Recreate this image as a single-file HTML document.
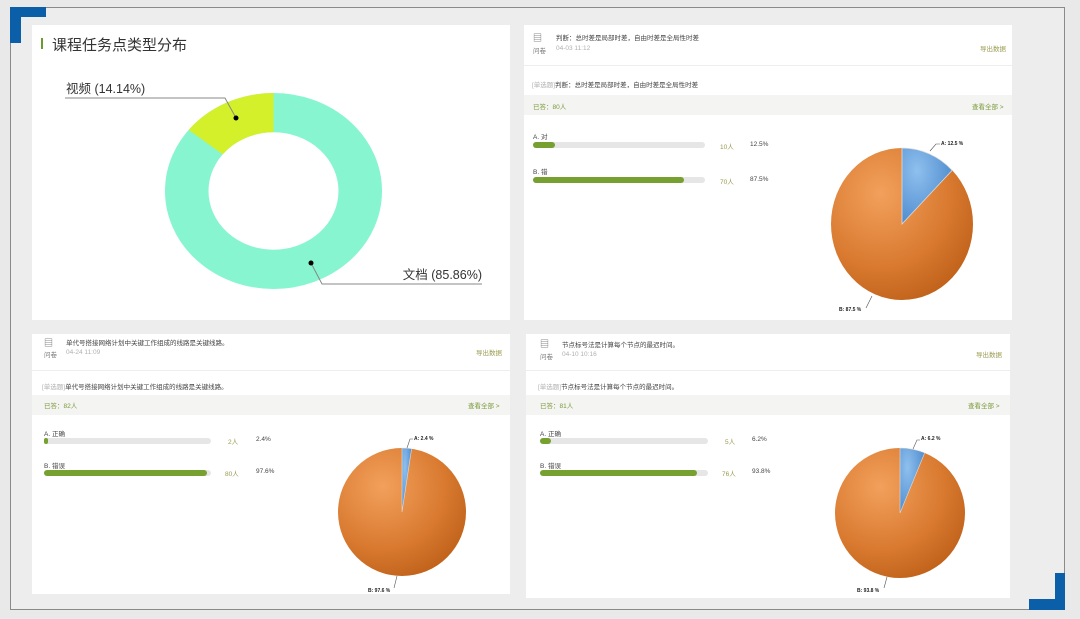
<!DOCTYPE html>
<html><head><meta charset="utf-8"><style>
*{margin:0;padding:0;box-sizing:border-box}
body{width:1080px;height:619px;background:#e9e9e9;position:relative;overflow:hidden;font-family:"Liberation Sans","Noto Sans CJK SC",sans-serif}
.frame{position:absolute;left:10px;top:7px;width:1055px;height:603px;border:1px solid #8a8a8a;background:#ededed}
.b{position:absolute;background:#0a5fa8}
.p{position:absolute;background:#fff}
.t{position:absolute;white-space:nowrap;font-size:6.5px;color:#444}
.g{color:#b0b0b0}.o{color:#9a9a50}.gr{color:#7a9a3a}
.band{position:absolute;background:#f4f4f2}
.bar{position:absolute;height:6px;border-radius:3px;background:#e6e6e6}
.bar i{position:absolute;left:0;top:0;height:6px;border-radius:3px;background:#76a030}
.hr{position:absolute;height:1px;background:#eee}
</style></head><body>
<div class="frame"></div>
<div class="b" style="left:10px;top:7px;width:36px;height:10px"></div>
<div class="b" style="left:10px;top:7px;width:11px;height:36px"></div>
<div class="b" style="left:1029px;top:599px;width:36px;height:11px"></div>
<div class="b" style="left:1055px;top:573px;width:10px;height:37px"></div>

<!-- TL panel -->
<div class="p" style="left:32px;top:25px;width:478px;height:295px"></div>
<div style="position:absolute;left:41px;top:38px;width:2px;height:11px;background:#6a9a30"></div>
<div class="t" style="left:52px;top:34px;font-size:15px;color:#333">课程任务点类型分布</div>
<svg style="position:absolute;left:0;top:0" width="1080" height="619">
<g transform="translate(273.5,191) scale(1,0.903)">
<circle r="86.75" fill="none" stroke="#86f5d0" stroke-width="43.5"/>
<path d="M0,-108.5 A108.5,108.5 0 0 0 -84.8,-67.7 L-50.8,-40.6 A65,65 0 0 1 0,-65 Z" fill="#d4f02a"/>
</g>
<polyline points="65,98 225,98 236,118" fill="none" stroke="#888" stroke-width="1"/>
<circle cx="236" cy="118" r="2.5" fill="#000"/>
<polyline points="311,263 322,284 482,284" fill="none" stroke="#888" stroke-width="1"/>
<circle cx="311" cy="263" r="2.5" fill="#000"/>
<text x="66" y="93" font-size="12.5" fill="#333" font-family="Liberation Sans,Noto Sans CJK SC,sans-serif">视频 (14.14%)</text>
<text x="482" y="279" text-anchor="end" font-size="12.5" fill="#333" font-family="Liberation Sans,Noto Sans CJK SC,sans-serif">文档 (85.86%)</text>
</svg>

<!-- TR panel -->
<div class="p" style="left:524px;top:25px;width:488px;height:295px"></div>
<div class="hr" style="left:524px;top:65px;width:488px"></div>
<div class="t" style="left:533px;top:31px;font-size:9px;color:#666">▤</div>
<div class="t" style="left:556px;top:32px">判断：总时差是局部时差，自由时差是全局性时差</div>
<div class="t g" style="left:533px;top:45px;color:#777">问卷</div>
<div class="t g" style="left:556px;top:45px">04-03 11:12</div>
<div class="t o" style="left:980px;top:43px">导出数据</div>
<div class="t" style="left:532px;top:79px"><span class="g">[单选题]</span>判断：总时差是局部时差，自由时差是全局性时差</div>
<div class="band" style="left:524px;top:95px;width:488px;height:20px"></div>
<div class="t gr" style="left:533px;top:101px">已答：80人</div>
<div class="t gr" style="left:972px;top:101px">查看全部 &gt;</div>
<div class="t" style="left:533px;top:131px">A. 对</div>
<div class="bar" style="left:533px;top:142px;width:172px"><i style="width:22px"></i></div>
<div class="t o" style="left:720px;top:141px">10人</div><div class="t" style="left:750px;top:141px">12.5%</div>
<div class="t" style="left:533px;top:166px">B. 错</div>
<div class="bar" style="left:533px;top:177px;width:172px"><i style="width:151px"></i></div>
<div class="t o" style="left:720px;top:176px">70人</div><div class="t" style="left:750px;top:176px">87.5%</div>

<!-- BL panel -->
<div class="p" style="left:32px;top:334px;width:478px;height:260px"></div>
<div class="hr" style="left:32px;top:370px;width:478px"></div>
<div class="t" style="left:44px;top:336px;font-size:9px;color:#666">▤</div>
<div class="t" style="left:66px;top:337px">单代号搭接网络计划中关键工作组成的线路是关键线路。</div>
<div class="t" style="left:44px;top:349px;color:#777">问卷</div>
<div class="t g" style="left:66px;top:349px">04-24 11:09</div>
<div class="t o" style="left:476px;top:347px">导出数据</div>
<div class="t" style="left:42px;top:381px"><span class="g">[单选题]</span>单代号搭接网络计划中关键工作组成的线路是关键线路。</div>
<div class="band" style="left:32px;top:395px;width:478px;height:20px"></div>
<div class="t gr" style="left:44px;top:400px">已答：82人</div>
<div class="t gr" style="left:468px;top:400px">查看全部 &gt;</div>
<div class="t" style="left:44px;top:428px">A. 正确</div>
<div class="bar" style="left:44px;top:438px;width:167px"><i style="width:4px"></i></div>
<div class="t o" style="left:228px;top:436px">2人</div><div class="t" style="left:256px;top:436px">2.4%</div>
<div class="t" style="left:44px;top:460px">B. 错误</div>
<div class="bar" style="left:44px;top:470px;width:167px"><i style="width:163px"></i></div>
<div class="t o" style="left:225px;top:468px">80人</div><div class="t" style="left:256px;top:468px">97.6%</div>

<!-- BR panel -->
<div class="p" style="left:526px;top:334px;width:484px;height:264px"></div>
<div class="hr" style="left:526px;top:370px;width:484px"></div>
<div class="t" style="left:540px;top:337px;font-size:9px;color:#666">▤</div>
<div class="t" style="left:562px;top:339px">节点标号法是计算每个节点的最迟时间。</div>
<div class="t" style="left:540px;top:351px;color:#777">问卷</div>
<div class="t g" style="left:562px;top:351px">04-10 10:16</div>
<div class="t o" style="left:976px;top:349px">导出数据</div>
<div class="t" style="left:538px;top:381px"><span class="g">[单选题]</span>节点标号法是计算每个节点的最迟时间。</div>
<div class="band" style="left:526px;top:395px;width:484px;height:20px"></div>
<div class="t gr" style="left:540px;top:400px">已答：81人</div>
<div class="t gr" style="left:968px;top:400px">查看全部 &gt;</div>
<div class="t" style="left:540px;top:428px">A. 正确</div>
<div class="bar" style="left:540px;top:438px;width:168px"><i style="width:11px"></i></div>
<div class="t o" style="left:725px;top:436px">5人</div><div class="t" style="left:752px;top:436px">6.2%</div>
<div class="t" style="left:540px;top:460px">B. 错误</div>
<div class="bar" style="left:540px;top:470px;width:168px"><i style="width:157px"></i></div>
<div class="t o" style="left:722px;top:468px">76人</div><div class="t" style="left:752px;top:468px">93.8%</div>

<svg style="position:absolute;left:0;top:0" width="1080" height="619">
<defs>
<radialGradient id="og" cx="0.35" cy="0.3" r="0.8"><stop offset="0" stop-color="#f2a05c"/><stop offset="0.6" stop-color="#d97a30"/><stop offset="1" stop-color="#bd5e18"/></radialGradient>
<radialGradient id="bg" cx="0.3" cy="0.3" r="0.8"><stop offset="0" stop-color="#8fc0ee"/><stop offset="1" stop-color="#4a88cc"/></radialGradient>
</defs>
<g font-size="5" font-weight="bold" fill="#222" font-family="Liberation Sans,sans-serif">
<ellipse cx="902" cy="224" rx="71" ry="76" fill="url(#og)"/>
<path d="M902,224 L902,148 A71,76 0 0 1 952.2,170.3 Z" fill="url(#bg)" stroke="#ddd" stroke-width="0.8"/>
<polyline points="930,151 936,144 940,144" fill="none" stroke="#555" stroke-width="0.6"/>
<text x="941" y="145">A: 12.5 %</text>
<polyline points="872,296 866,308" fill="none" stroke="#555" stroke-width="0.6"/>
<text x="839" y="311">B: 87.5 %</text>
<circle cx="402" cy="512" r="64" fill="url(#og)"/>
<path d="M402,512 L402,448 A64,64 0 0 1 411.6,448.7 Z" fill="url(#bg)" stroke="#ddd" stroke-width="0.6"/>
<polyline points="407,448 410,439 413,439" fill="none" stroke="#555" stroke-width="0.6"/>
<text x="414" y="440">A: 2.4 %</text>
<polyline points="397,576 394,588" fill="none" stroke="#555" stroke-width="0.6"/>
<text x="368" y="592">B: 97.6 %</text>
<circle cx="900" cy="513" r="65" fill="url(#og)"/>
<path d="M900,513 L900,448 A65,65 0 0 1 924.7,452.9 Z" fill="url(#bg)" stroke="#ddd" stroke-width="0.6"/>
<polyline points="913,449 917,440 920,440" fill="none" stroke="#555" stroke-width="0.6"/>
<text x="921" y="440">A: 6.2 %</text>
<polyline points="887,577 884,588" fill="none" stroke="#555" stroke-width="0.6"/>
<text x="857" y="592">B: 93.8 %</text>
</g>
</svg>
</body></html>
